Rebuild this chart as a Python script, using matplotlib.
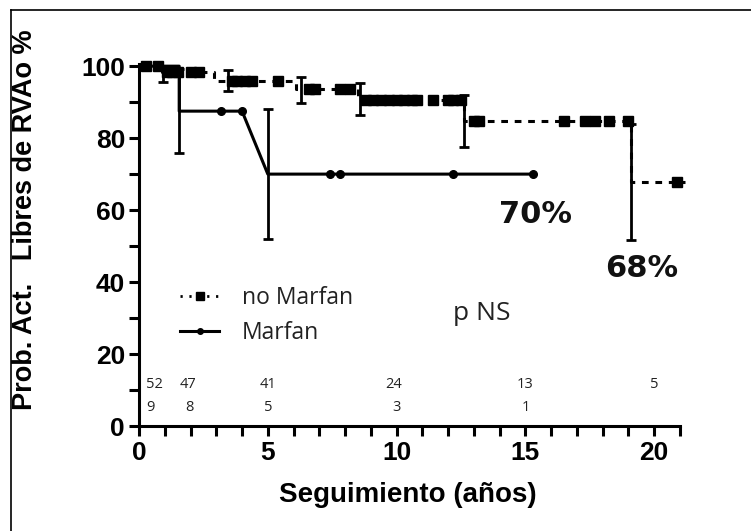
import numpy as np
import matplotlib
matplotlib.use("Agg")
import matplotlib.pyplot as plt
from matplotlib.lines import Line2D

# --- Kaplan-Meier data -------------------------------------------------------
# no Marfan: event times (years) and survival (%) after each step
nm_times = [0.0, 0.9, 2.9, 6.1, 8.5, 12.6, 19.1]
nm_surv = [100.0, 98.3, 95.8, 93.6, 90.5, 84.7, 67.8]
nm_end = 21.2
nm_censor = [0.27, 0.74, 1.1, 1.3, 1.5, 2.0, 2.33, 3.6, 3.8, 4.1, 4.4, 5.4,
             6.6, 6.85, 7.8, 8.2, 8.8, 9.1, 9.4, 9.7, 10.0, 10.3, 10.6,
             10.8, 11.4, 12.0, 12.2, 12.5, 13.0, 13.2, 16.5, 17.3, 17.7,
             18.25, 19.0, 20.9]
nm_err_t = [0.93, 3.46, 6.3, 8.56, 12.6, 19.1]
nm_err_y = [97.4, 96.0, 93.4, 90.8, 84.7, 67.8]
nm_err_h = [1.8, 3.0, 3.6, 4.5, 7.2, 16.1]

# Marfan: curve vertices
mf_times = [0.0, 1.56, 1.56, 4.0, 5.0, 15.3]
mf_surv = [100.0, 100.0, 87.5, 87.5, 70.0, 70.0]
mf_censor = [3.2, 4.0, 7.4, 7.8, 12.2, 15.3]
mf_err_t = [1.56, 5.0]
mf_err_y = [87.5, 70.0]
mf_err_h = [11.7, 18.0]

# numbers at risk
risk_nm_x = [0.6, 1.9, 5.0, 9.9, 15.0, 20.0]
risk_nm = ["52", "47", "41", "24", "13", "5"]
risk_mf_x = [0.45, 1.95, 5.0, 10.0, 15.0]
risk_mf = ["9", "8", "5", "3", "1"]

final_nm_label = "68%"
final_mf_label = "70%"


def step_value(times, surv, t):
    idx = np.searchsorted(times, t, side="right") - 1
    return np.asarray(surv)[idx]


W, H = 751, 531
fig = plt.figure(figsize=(W / 100, H / 100), dpi=100)
fig.patch.set_facecolor("white")

# outer frame (top and left edges visible)
fig.add_artist(Line2D([11 / W, 11 / W], [0, 1 - 10 / H], transform=fig.transFigure,
                      color="black", lw=1.2))
fig.add_artist(Line2D([11 / W, 1], [1 - 10 / H, 1 - 10 / H], transform=fig.transFigure,
                      color="black", lw=1.2))

ax = fig.add_axes([139 / W, 1 - 426 / H, (680 - 139) / W, (426 - 64) / H])

bold = dict(family="Liberation Sans", weight="bold")
light = dict(family="Open Sans", color="#222222")

# no Marfan curve (dashed, square censor marks)
nm_x = list(nm_times) + [nm_end]
nm_y = list(nm_surv) + [nm_surv[-1]]
ax.plot(nm_x, nm_y, drawstyle="steps-post", color="black", lw=2.2,
        dashes=(2.2, 2.2), clip_on=False, zorder=3)
ax.plot(nm_censor, step_value(nm_times, nm_surv, nm_censor), ls="none",
        marker="s", ms=6.5, color="black", clip_on=False, zorder=4)
ax.errorbar(nm_err_t, nm_err_y, yerr=nm_err_h, fmt="none", ecolor="black",
            elinewidth=2, capsize=3.5, capthick=2, zorder=3)

# Marfan curve (solid, round censor marks)
ax.plot(mf_times, mf_surv, color="black", lw=2.2, zorder=3)
ax.plot(mf_censor, np.interp(mf_censor, mf_times[3:], mf_surv[3:]), ls="none",
        marker="o", ms=5.5, color="black", zorder=4)
ax.errorbar(mf_err_t, mf_err_y, yerr=mf_err_h, fmt="none", ecolor="black",
            elinewidth=2, capsize=3.5, capthick=2, zorder=3)

# annotations
ax.text(15.4, 58.8, final_mf_label, fontsize=22, family="DejaVu Sans",
        weight="bold", ha="center", va="center", color="#111111")
ax.text(19.5, 43.9, final_nm_label, fontsize=22, family="DejaVu Sans",
        weight="bold", ha="center", va="center", color="#111111")
ax.text(13.3, 31.2, "p NS", fontsize=19, ha="center", va="center", **light)

for x, s in zip(risk_nm_x, risk_nm):
    ax.text(x, 11.6, s, fontsize=10.5, ha="center", va="center", **light)
for x, s in zip(risk_mf_x, risk_mf):
    ax.text(x, 5.2, s, fontsize=10.5, ha="center", va="center", **light)

# legend
h_nm = Line2D([0, 1, 2], [0, 0, 0], color="black", lw=2, dashes=(0.8, 2.4),
              marker="s", ms=6, markevery=[1])
h_mf = Line2D([0, 1, 2], [0, 0, 0], color="black", lw=2.2, marker="o", ms=4,
              markevery=[1])
leg = ax.legend([h_nm, h_mf], ["no Marfan", "Marfan"], loc="center left",
                bbox_to_anchor=(0.059, 0.305), frameon=False, handlelength=1.7,
                handletextpad=1.0, labelspacing=0.45, borderaxespad=0,
                prop=dict(family="Open Sans", size=16.5))
for t in leg.get_texts():
    t.set_color("#222222")

# axes styling
ax.set_xlim(0, 21)
ax.set_ylim(0, 100.6)
ax.set_xticks([0, 5, 10, 15, 20])
ax.set_xticks(np.arange(0, 22, 1), minor=True)
ax.set_yticks([0, 20, 40, 60, 80, 100])
ax.set_yticks(np.arange(0, 101, 10), minor=True)
for side in ("top", "right"):
    ax.spines[side].set_visible(False)
for side in ("left", "bottom"):
    ax.spines[side].set_linewidth(2.2)
ax.tick_params(which="both", direction="out", width=2.2, length=7, color="black")
ax.tick_params(axis="x", which="major", labelsize=19, pad=4)
ax.tick_params(axis="y", which="major", labelsize=19, pad=3)
for lbl in ax.get_xticklabels() + ax.get_yticklabels():
    lbl.set_family("Liberation Sans")
    lbl.set_weight("bold")

ax.set_xlabel("Seguimiento (años)", fontsize=20, **bold)
ax.set_ylabel("Prob. Act.   Libres de RVAo %", fontsize=19.5, **bold)
ax.xaxis.set_label_coords((408 - 139) / 541, (426 - 482) / 362)
ax.yaxis.set_label_coords((38 - 139) / 541, (426 - 220) / 362)

fig.savefig("out.png", dpi=100, facecolor="white")
